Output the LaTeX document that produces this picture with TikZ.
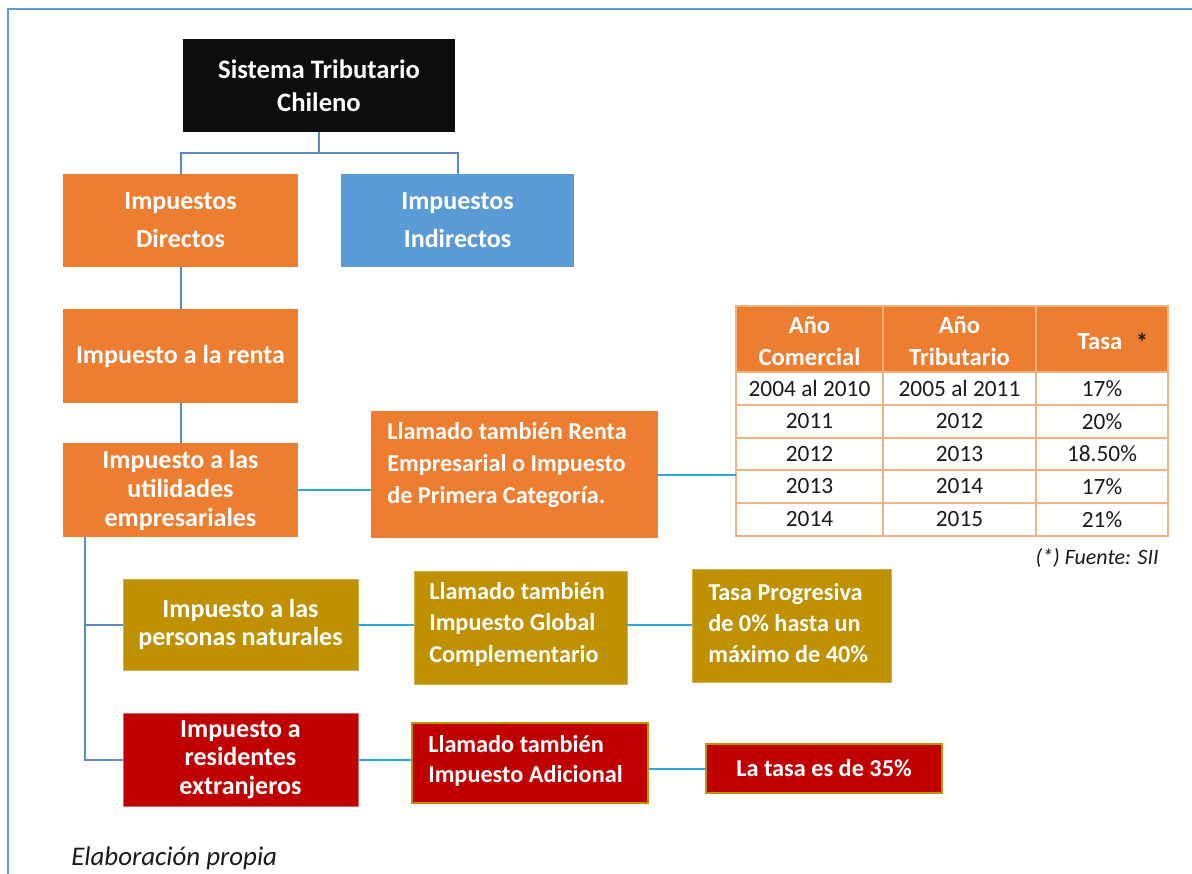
\documentclass[tikz,border=0pt]{standalone}
\usepackage{fontspec}
\setmainfont{Carlito}
\usetikzlibrary{calc}

\definecolor{cOrange}{HTML}{ED7D31}
\definecolor{cBlue}{HTML}{5B9BD5}
\definecolor{cGold}{HTML}{BF9000}
\definecolor{cRed}{HTML}{C00000}
\definecolor{cBlack}{HTML}{0D0D0D}
\definecolor{cTree}{HTML}{5A8AC6}
\definecolor{cLink}{HTML}{2AA8E0}
\definecolor{cGrid}{HTML}{F4B183}
\definecolor{cFrame}{HTML}{5B9BD5}
\definecolor{cText}{HTML}{1A1A1A}

\tikzset{
  px/.style={x=0.75pt,y=-0.75pt},
  bx/.style={rectangle, inner sep=0pt, text=white, align=center,
             minimum width=#1},
  bfont/.style={font=\fontsize{19.5}{#1}\selectfont\bfseries},
  sfont/.style={font=\fontsize{18.2}{#1}\selectfont\bfseries},
  tree/.style={draw=cTree, line width=1.5pt},
  link/.style={draw=cLink, line width=1.5pt},
  grid/.style={draw=cGrid, line width=1.5pt},
  cell/.style={font=\fontsize{17.5}{21}\selectfont, text=cText, inner sep=0pt},
  headcell/.style={font=\fontsize{18.5}{24}\selectfont\bfseries, text=white, inner sep=0pt, align=center},
}

\begin{document}
\begin{tikzpicture}[px]
\useasboundingbox (0,0) rectangle (1192,874);

% outer frame (top and left edges)
\draw[cFrame, line width=1.5pt] (8,874) -- (8,9) -- (1192,9);

% top level
\node[bx=204pt, minimum height=69.75pt, fill=cBlack, font=\fontsize{20}{24.75}\selectfont\bfseries]
  (head) at (319,85.5) {Sistema Tributario\\Chileno};

% second level
\node[bx=176.25pt, minimum height=69.75pt, fill=cOrange, bfont=28.5] (dir) at (180.5,220.5) {Impuestos\\Directos};
\node[bx=174.75pt, minimum height=69.75pt, fill=cBlue, bfont=28.5] (ind) at (457.5,220.5) {Impuestos\\Indirectos};

% income tax chain
\node[bx=176.25pt, minimum height=70.5pt, fill=cOrange, bfont=22] (renta) at (180.5,356) {Impuesto a la renta};
\node[bx=176.25pt, minimum height=70.5pt, fill=cOrange, bfont=21.75] (util) at (180.5,490) {Impuesto a las\\utilidades\\empresariales};

\node[bx=215.25pt, minimum height=95.25pt, fill=cOrange] (lr) at (514.5,474.5) {};
\node[anchor=west, inner sep=0pt, text=white, align=left, sfont=24] (lrtext) at (387,465)
  {Llamado también Renta\\Empresarial o Impuesto\\de Primera Categoría.};

% personal income
\node[bx=176.25pt, minimum height=68.25pt, fill=cGold, draw=cGold!70!white, line width=0.6pt, bfont=21] (pers) at (240.5,624.5) {Impuesto a las\\personas naturales};
\node[bx=159.75pt, minimum height=84.75pt, fill=cGold, draw=cGold!70!white, line width=0.6pt] (gc) at (520.5,627.5) {};
\node[anchor=west, inner sep=0pt, text=white, align=left, sfont=23.6] (gctext) at (429,624)
  {Llamado también\\Impuesto Global\\Complementario};
\node[bx=149.25pt, minimum height=84.75pt, fill=cGold, draw=cGold!70!white, line width=0.6pt] (tp) at (791.5,625.5) {};
\node[anchor=west, inner sep=0pt, text=white, align=left, sfont=23] (tptext) at (708,623)
  {Tasa Progresiva\\de 0\% hasta un\\máximo de 40\%};

% foreign residents
\node[bx=176.25pt, minimum height=69.75pt, fill=cRed, draw=cRed!60!white, line width=0.6pt, bfont=21.4] (res) at (240.5,759.5) {Impuesto a\\residentes\\extranjeros};
\node[bx=177pt, minimum height=60pt, fill=cRed, draw=cGold, line width=0.8pt] (adic) at (530,763) {};
\node[anchor=west, inner sep=0pt, text=white, align=left, sfont=23] (adtext) at (428,761)
  {Llamado también\\Impuesto Adicional};
\node[bx=177pt, minimum height=36.75pt, fill=cRed, draw=cGold, line width=0.8pt, sfont=22] (tasa) at (824,768.5) {La tasa es de 35\%};

% rate table
\node[rectangle, inner sep=0pt, minimum width=324pt, minimum height=172.5pt] (tbl) at (952,421) {};
\fill[cOrange] (736,306) rectangle (1168,372);
\foreach \yy in {372,405,438,470,503} \draw[grid] (736,\yy) -- (1168,\yy);
\draw[grid] (883,306) -- (883,536);
\draw[grid] (1036,306) -- (1036,536);
\draw[grid] (tbl.north west) rectangle (tbl.south east);

\node[headcell] (h1) at (809.5,341) {Año\\Comercial};
\node[headcell] (h2) at (959.5,341) {Año\\Tributario};
\node[headcell] (h3) at (1100,342) {Tasa};
\node[font=\fontsize{18}{20}\selectfont\bfseries, text=cText, inner sep=0pt] (ast) at (1142,342) {*};

\foreach \ya/\c/\d/\e in {388.5/2004 al 2010/2005 al 2011/17\%,
                           421.5/2011/2012/20\%,
                           454/2012/2013/18.50\%,
                           486.5/2013/2014/17\%,
                           519.5/2014/2015/21\%} {
  \node[cell] at (809.5,\ya) {\c};
  \node[cell] at (959.5,\ya) {\d};
  \node[cell] at (1102,\ya) {\e};
}

\node[anchor=east, inner sep=0pt, text=cText, font=\fontsize{16.5}{20}\selectfont\itshape] (src) at (1159,558) {(*) Fuente: SII};

% connectors of the tree
\draw[draw=cTree, line width=2.2pt] (head.south) -- ++(0,21) coordinate (fork);
\draw[tree] (fork) -| (dir.north);
\draw[tree] (fork) -| (ind.north);
\draw[tree] (dir.south) -- (renta.north);
\draw[tree] (renta.south) -- (util.north);
\coordinate (trunk) at ($(util.south west)+(22,0)$);
\draw[tree] (trunk) |- (pers.west);
\draw[tree] (trunk) |- (res.west);

% side links
\draw[link] (util.east) -- (util.east -| lr.west);
\draw[link] (lr.east) -- (lr.east -| tbl.west);
\draw[link] (pers.east) -- (pers.east -| gc.west);
\draw[link] ($(gc.east)+(0,-3)$) -- ($(gc.east -| tp.west)+(0,-3)$);
\draw[link] (res.east) -- (res.east -| adic.west);
\draw[link] (tasa.west -| adic.east) -- (tasa.west);

% footnote
\node[anchor=west, inner sep=0pt, text=cText, font=\fontsize{20.2}{24}\selectfont\itshape] (foot) at (71,858) {Elaboración propia};
\end{tikzpicture}
\end{document}
